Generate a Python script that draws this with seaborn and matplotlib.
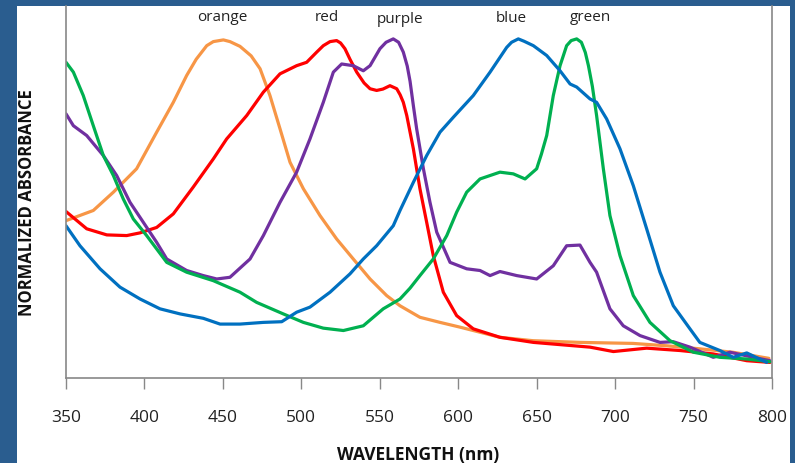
import numpy as np
import pandas as pd
import matplotlib
matplotlib.use("Agg")
import matplotlib.pyplot as plt
import seaborn as sns

# ---- data ----
orange_wl = [350, 367.4, 380.2, 395, 407.8, 418.4, 426.9, 433, 439.7, 443.9, 450.3, 454.5, 460.9,
             468, 473.7, 480, 486.4, 492.8, 501.3, 511.9, 522.5, 533.1, 543.8, 554.4, 562.9,
             575.6, 588.4, 601.1, 626.6, 647.7, 677.6, 711.4, 732.9, 754, 775, 798]
orange_abs = [0.464, 0.494, 0.548, 0.617, 0.725, 0.813, 0.892, 0.940, 0.980, 0.992, 0.997, 0.992,
              0.978, 0.950, 0.912, 0.833, 0.735, 0.636, 0.558, 0.479, 0.410, 0.351, 0.292, 0.243,
              0.213, 0.179, 0.164, 0.150, 0.120, 0.110, 0.105, 0.102, 0.095, 0.086, 0.076, 0.058]

red_wl = [350, 363.2, 376, 388.7, 397.2, 407.8, 418.4, 431.1, 443.9, 452.4, 465.2, 475.8, 486.4,
          497, 503.4, 509.8, 514, 518.3, 522.5, 525, 527.8, 531, 535.3, 540, 543.8, 548, 552,
          556.5, 560.8, 563, 565, 567.2, 571.4, 575.6, 579.9, 584.1, 590.5, 599, 609.6, 626.6,
          647.9, 684, 698.9, 720.1, 741.4, 762.6, 783.9, 798.7]
red_abs = [0.491, 0.440, 0.422, 0.420, 0.428, 0.444, 0.484, 0.563, 0.646, 0.705, 0.774, 0.843,
           0.897, 0.921, 0.931, 0.961, 0.980, 0.992, 0.995, 0.988, 0.971, 0.940, 0.902, 0.870,
           0.853, 0.848, 0.852, 0.862, 0.853, 0.835, 0.813, 0.774, 0.676, 0.558, 0.459, 0.361,
           0.253, 0.184, 0.145, 0.120, 0.105, 0.091, 0.078, 0.088, 0.081, 0.071, 0.051, 0.046]

purple_wl = [350, 354.7, 363.2, 373.8, 382.3, 390.8, 399.3, 407.8, 414.2, 426.9, 437.5, 446.1,
             454.5, 467.3, 475.8, 486.4, 497, 505.5, 514, 520.4, 525.7, 533.1, 539.5, 543.8, 550.1,
             554, 558.6, 562, 565, 567.5, 569.3, 571.5, 573.5, 577.8, 582, 586.3, 594.8, 605.4,
             613.9, 620.3, 626.6, 637.3, 650, 660.6, 669.1, 677.6, 684, 688.2, 696.7, 705.2,
             715.9, 728.6, 737.1, 747.7, 762.6, 773.2, 788.1, 798.7]
purple_abs = [0.779, 0.744, 0.715, 0.656, 0.597, 0.518, 0.459, 0.400, 0.351, 0.317, 0.302, 0.292,
              0.297, 0.351, 0.420, 0.518, 0.607, 0.705, 0.813, 0.902, 0.926, 0.921, 0.906, 0.921,
              0.971, 0.990, 1.000, 0.990, 0.961, 0.920, 0.875, 0.800, 0.735, 0.617, 0.518, 0.430,
              0.341, 0.322, 0.317, 0.302, 0.314, 0.302, 0.292, 0.331, 0.390, 0.392, 0.341, 0.312,
              0.204, 0.154, 0.125, 0.105, 0.107, 0.091, 0.061, 0.076, 0.061, 0.051]

green_wl = [350, 354.7, 361, 367.4, 373.8, 380.2, 386.5, 392.9, 401.4, 414.2, 426.9, 443.9,
            460.9, 471.5, 488.5, 501.3, 514, 526.8, 539.5, 552.2, 562.9, 569.3, 575.6, 584.1,
            592.7, 599, 605.4, 613.9, 626.6, 635.1, 642.6, 650, 653, 656.4, 660.6, 664.9, 669.1,
            672, 675.5, 678.5, 681, 683, 685.5, 688.2, 692.5, 696.7, 703.1, 711.6, 722.2, 735,
            749.9, 766.8, 783.9, 798.7]
green_abs = [0.931, 0.902, 0.833, 0.744, 0.656, 0.597, 0.528, 0.469, 0.420, 0.341, 0.312, 0.287,
             0.253, 0.223, 0.189, 0.164, 0.147, 0.140, 0.154, 0.204, 0.233, 0.265, 0.302, 0.351,
             0.420, 0.489, 0.548, 0.587, 0.607, 0.602, 0.587, 0.617, 0.660, 0.715, 0.833, 0.921,
             0.980, 0.995, 1.000, 0.990, 0.960, 0.921, 0.860, 0.774, 0.617, 0.479, 0.361, 0.243,
             0.164, 0.110, 0.076, 0.061, 0.056, 0.048]

blue_wl = [350, 358.9, 371.7, 384.4, 397.2, 409.9, 422.7, 437.5, 448.2, 460.9, 475.8, 487.5, 497,
           505.5, 518.3, 531, 539.5, 548, 558.6, 562.9, 571.4, 579.9, 588.4, 596.9, 609.6, 620.3,
           630.9, 634, 638.3, 642, 647.9, 656.4, 664.9, 671.3, 675.5, 684, 688.2, 694.6, 703.1,
           711.6, 720.1, 728.6, 737.1, 747.7, 754, 766.8, 775.3, 783.9, 796.6]
blue_abs = [0.449, 0.390, 0.322, 0.268, 0.233, 0.204, 0.189, 0.176, 0.159, 0.159, 0.164, 0.166,
            0.194, 0.209, 0.253, 0.307, 0.351, 0.390, 0.449, 0.494, 0.577, 0.656, 0.725, 0.769,
            0.833, 0.902, 0.975, 0.990, 1.000, 0.993, 0.980, 0.951, 0.906, 0.867, 0.858, 0.823,
            0.813, 0.764, 0.676, 0.567, 0.440, 0.312, 0.213, 0.145, 0.105, 0.081, 0.061, 0.074,
            0.046]

dye_names = ["orange", "red", "purple", "green", "blue"]
dye_colors = ["#F79646", "#FF0000", "#7030A0", "#00B050", "#0070C0"]
label_wl = [449.5, 516.5, 563, 684.5, 634]   # x positions of the top labels
label_y = [1.065, 1.065, 1.060, 1.065, 1.062]
x_ticks = [350, 400, 450, 500, 550, 600, 650, 700, 750, 800]

series = {
    "orange": (orange_wl, orange_abs),
    "red": (red_wl, red_abs),
    "purple": (purple_wl, purple_abs),
    "green": (green_wl, green_abs),
    "blue": (blue_wl, blue_abs),
}
frames = []
for name in dye_names:
    wl, ab = series[name]
    frames.append(pd.DataFrame({"wavelength": wl, "absorbance": ab, "dye": name}))
df = pd.concat(frames, ignore_index=True)

# ---- figure ----
sns.set_style("white")
plt.rcParams["font.family"] = ["Open Sans", "DejaVu Sans"]

W, H = 795, 464
fig = plt.figure(figsize=(W / 100, H / 100), dpi=100)
fig.patch.set_facecolor("#2A5D8F")

# white panel inside the blue frame (background axes)
bg = fig.add_axes([17 / W, 0, (790 - 17) / W, (H - 7) / H], zorder=-5)
bg.set_facecolor("white")
bg.set_xticks([])
bg.set_yticks([])
for s in bg.spines.values():
    s.set_visible(False)

ax = fig.add_axes([66 / W, 1 - 379 / H, (772 - 66) / W, (379 - 7) / H], zorder=1)
ax.set_facecolor("white")

sns.lineplot(data=df, x="wavelength", y="absorbance", hue="dye",
             palette=dict(zip(dye_names, dye_colors)), hue_order=dye_names,
             sort=False, estimator=None, linewidth=2.3, legend=False, ax=ax)
for line in ax.lines:
    line.set_solid_joinstyle("round")
    line.set_solid_capstyle("round")

ax.set_xlim(350, 800)
ax.set_ylim(0, 1.097)
ax.set_xticks(x_ticks)
ax.set_xticklabels([str(t) for t in x_ticks], fontsize=12.5, color="#222222")
ax.set_yticks([])
ax.tick_params(axis="x", direction="out", length=8, width=1, color="#888888", pad=14,
               bottom=True)
ax.set_xlabel("")
ax.set_ylabel("")
for side in ["left", "bottom", "right"]:
    ax.spines[side].set_visible(True)
    ax.spines[side].set_color("#888888")
    ax.spines[side].set_linewidth(1.2)
ax.spines["top"].set_visible(False)

for name, wl, yy in zip(dye_names, label_wl, label_y):
    ax.text(wl, yy, name, ha="center", va="center", fontsize=11, color="#222222")

fig.text(418 / W, 1 - 455 / H, "WAVELENGTH (nm)", ha="center", va="center",
         fontsize=12.5, fontweight="bold", color="#111111")
fig.text(27 / W, 1 - 203 / H, "NORMALIZED ABSORBANCE", ha="center", va="center",
         rotation=90, fontsize=12, fontweight="bold", color="#111111")

fig.savefig("out.png", dpi=100, facecolor=fig.get_facecolor())
